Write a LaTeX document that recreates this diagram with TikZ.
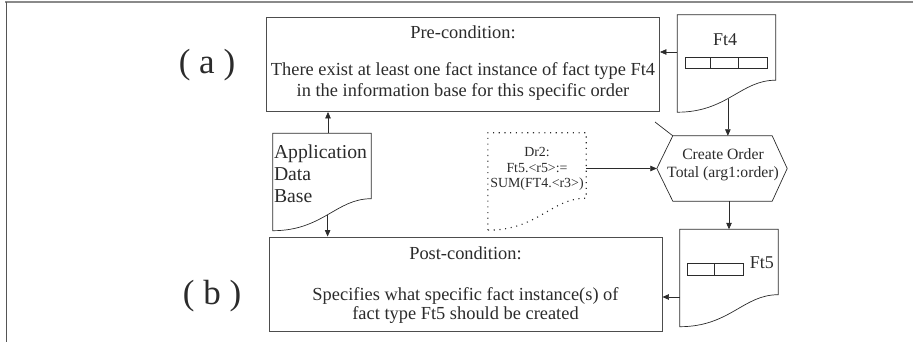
\documentclass[tikz,border=0pt]{standalone}
\usepackage{fontspec}
\setmainfont{Liberation Serif}
\usetikzlibrary{positioning,arrows.meta}

\definecolor{ink}{HTML}{2B2B2B}
\definecolor{boxline}{HTML}{4D4D4D}
\definecolor{framegray}{HTML}{8A8A8A}

% outline of a document with a wavy lower edge
% #1 node, #2 rise of right corner, #3 pos of exit point on the wave, #4 line style
\newcommand{\docoutline}[4]{%
  \draw[#4] (#1.south west) -- (#1.north west) -- (#1.north east) -- ([yshift=#2]#1.south east)
    .. controls +(-35,0) and +(50,0) .. (#1.south west) coordinate[pos=#3] (#1-w) -- cycle;
}

\begin{document}
\begin{tikzpicture}[x=1pt,y=-1pt,
    every node/.style={text=ink,inner sep=0pt},
    >={Triangle[length=6.5pt,width=5.5pt]},
    flow/.style={->,draw=ink,line width=0.7pt},
    condbox/.style={draw=boxline,line width=0.9pt,minimum width=393pt,minimum height=94pt},
    docbox/.style={minimum width=98pt,minimum height=97pt},
    docline/.style={draw=ink,line width=0.7pt},
    dotline/.style={draw=ink,line width=1.1pt,dash pattern=on 1.1pt off 4.6pt},
    tag/.style={font=\fontsize{35}{35}\selectfont},
    condtext/.style={align=center,font=\fontsize{18.4}{21}\selectfont},
    cell/.style={draw=ink,line width=0.7pt}]

  \useasboundingbox (0,0) rectangle (913,342);

  % frame
  \draw[framegray,line width=2pt] (5,2.5) -- (913,2.5);
  \draw[ink!80,line width=1pt] (6,2) -- (6,342);

  % condition boxes
  \node[condbox] (pre) at (463,64.5) {};
  \node[condbox] (post) at (465.5,284) {};
  \node[condtext, below=8.6pt of pre.north] (pretxt)
    {Pre-condition:\\[16pt]There exist at least one fact instance of fact type Ft4\\in the information base for this specific order};
  \node[condtext, font=\fontsize{18.4}{19}\selectfont, below=9.6pt of post.north] (posttxt)
    {Post-condition:\\[22pt]Specifies what specific fact instance(s) of\\fact type Ft5 should be created};

  \node[tag] (laba) at (207,65) {( a )};
  \node[tag] (labb) at (212,296) {( b )};

  % documents
  \node[docbox] (ft4) at (726.5,63.5) {};
  \node[docbox] (ft5) at (729,278) {};
  \node[docbox] (app) at (322,182) {};
  \node[docbox] (dr2) at (537,181.5) {};
  \docoutline{ft4}{32pt}{0.55}{docline}
  \docoutline{ft5}{32pt}{0.5}{docline}
  \docoutline{app}{32pt}{0.5}{docline}
  \docoutline{dr2}{32pt}{0.5}{dotline}

  \node[font=\fontsize{18}{18}\selectfont, anchor=base] (ft4lbl) at (725,46) {Ft4};
  \node[font=\fontsize{18}{18}\selectfont, anchor=base east] (ft5lbl) at (774,268) {Ft5};
  \foreach \a/\b in {685/710,710/738,738/767}
    \draw[cell] (\a,57) rectangle (\b,68);
  \foreach \a/\b in {687/714,714/743}
    \draw[cell] (\a,263) rectangle (\b,275);

  \node[align=left, font=\fontsize{19.7}{22}\selectfont, below right=11.5pt and 1pt of app.north west] (apptxt)
    {Application\\Data\\Base};
  \node[align=center, font=\fontsize{13.9}{15.5}\selectfont] (dr2txt) at (537,169)
    {Dr2:\\Ft5.<r5>:=\\SUM(FT4.<r3>)};

  % operation hexagon
  \node[minimum width=99pt,minimum height=65pt] (crt) at (722.5,168.5) {};
  \coordinate (crt-l) at ([xshift=-16pt]crt.west);
  \coordinate (crt-r) at ([xshift=15pt]crt.east);
  \draw[docline] (crt.north west) -- (crt.north east) -- (crt-r) -- (crt.south east)
    -- (crt.south west) -- (crt-l) -- cycle;
  \node[align=center, font=\fontsize{15.7}{18}\selectfont] (crttxt) at (723,164.4)
    {Create Order\\Total (arg1:order)};
  \coordinate (crt-tail) at (655,122);
  \draw[docline] (crt-tail) -- (crt.north west);

  % connectors
  \coordinate (ft4-out) at ([yshift=11.5pt]ft4.west);
  \coordinate (ft5-out) at ([yshift=-19pt]ft5.west);
  \coordinate (app-top) at ([xshift=6pt]app.north);
  \coordinate (dr2-out) at ([yshift=13pt]dr2.east);
  \draw[flow] (ft4-out) -- (ft4-out -| pre.east);
  \draw[flow] (ft4-w) -- (ft4-w |- crt.north);
  \draw[flow] (app-top) -- (app-top |- pre.south);
  \draw[flow] (app-w) -- (app-w |- post.north);
  \draw[flow] (dr2-out) -- (crt-l);
  \draw[flow] (ft5.north |- crt.south) -- (ft5.north);
  \draw[flow] (ft5-out) -- (ft5-out -| post.east);

\end{tikzpicture}
\end{document}
